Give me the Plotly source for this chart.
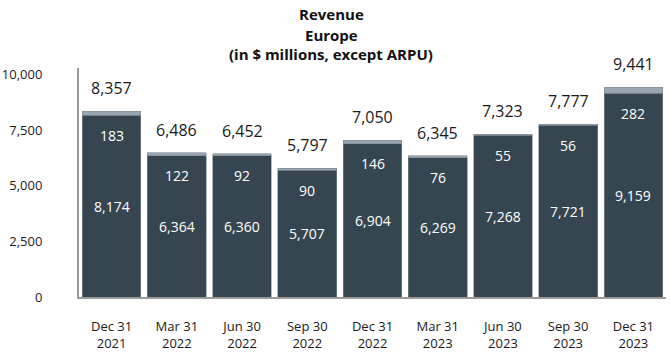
import plotly.graph_objects as go

categories = ["Dec 31<br>2021", "Mar 31<br>2022", "Jun 30<br>2022", "Sep 30<br>2022",
              "Dec 31<br>2022", "Mar 31<br>2023", "Jun 30<br>2023", "Sep 30<br>2023",
              "Dec 31<br>2023"]
base_values = [8174, 6364, 6360, 5707, 6904, 6269, 7268, 7721, 9159]
top_values = [183, 122, 92, 90, 146, 76, 55, 56, 282]
totals = [8357, 6486, 6452, 5797, 7050, 6345, 7323, 7777, 9441]
y_ticks = [0, 2500, 5000, 7500, 10000]
title_lines = ["Revenue", "Europe", "(in $ millions, except ARPU)"]

FONT = "Open Sans"
DARK = "#364651"
LIGHT = "#97a5b0"

fig = go.Figure()
fig.add_trace(go.Bar(x=categories, y=base_values, marker=dict(color=DARK, line=dict(color="#7d8990", width=0.6)),
                     hoverinfo="skip"))
fig.add_trace(go.Bar(x=categories, y=top_values, marker=dict(color=LIGHT, line=dict(color="#7d8990", width=0.6)),
                     hoverinfo="skip"))

ann = []
for c, b, t, tot in zip(categories, base_values, top_values, totals):
    ann.append(dict(x=c, y=tot, text=f"{tot:,}", showarrow=False, yshift=23,
                    font=dict(family=FONT, size=16, color="#1a1a1a")))
    ann.append(dict(x=c, y=b, text=f"{t:,}", showarrow=False, yshift=-20,
                    font=dict(family=FONT, size=14, color="white")))
    ann.append(dict(x=c, y=b / 2, text=f"{b:,}", showarrow=False,
                    font=dict(family=FONT, size=14, color="white")))

for line, py in zip(title_lines, [1.236, 1.146, 1.059]):
    ann.append(dict(xref="paper", yref="paper", x=0.43, y=py, text=f"<b>{line}</b>",
                    showarrow=False, xanchor="center", yanchor="middle",
                    font=dict(family=FONT, size=15, color="#111")))

fig.update_layout(
    barmode="stack",
    bargap=0.1,
    width=670, height=352,
    margin=dict(l=79, r=4, t=68, b=55, autoexpand=False),
    paper_bgcolor="white", plot_bgcolor="white",
    showlegend=False,
    annotations=ann,
    xaxis=dict(showline=True, linecolor="#9a9a9a", linewidth=2, ticks="",
               tickfont=dict(family=FONT, size=13, color="#1a1a1a"),
               ticklabelstandoff=16, showgrid=False, automargin=False),
    yaxis=dict(range=[0, 10300], tickvals=y_ticks, ticktext=[f"{v:,}" for v in y_ticks],
               showline=True, linecolor="#9a9a9a", linewidth=2, ticks="",
               tickfont=dict(family=FONT, size=13, color="#1a1a1a"),
               ticklabelstandoff=32, showgrid=False, zeroline=False, automargin=False),
)

fig.write_html("out.html")
